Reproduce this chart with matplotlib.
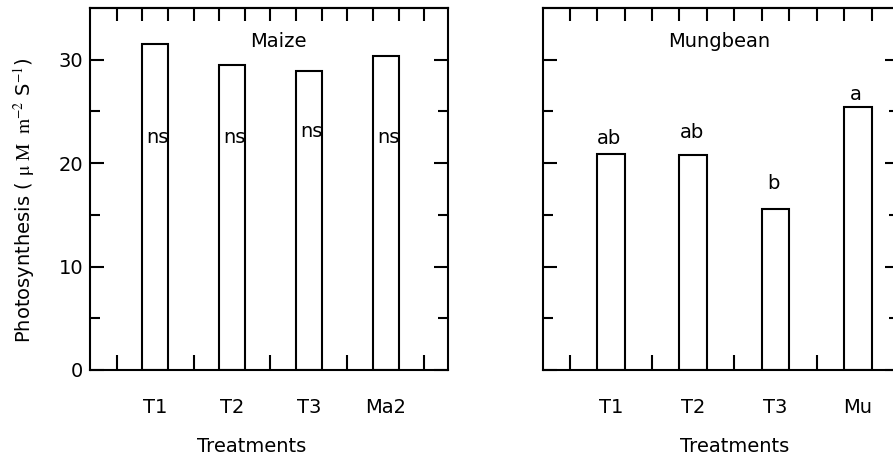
import matplotlib
matplotlib.use("Agg")
import matplotlib.pyplot as plt
import numpy as np

plt.rcParams['font.family'] = ['DejaVu Sans']
plt.rcParams['mathtext.fontset'] = 'stix'

maize_labels = ["T1", "T2", "T3", "Ma2"]
maize_values = [31.55, 29.5, 28.9, 30.4]
maize_letters = ["ns", "ns", "ns", "ns"]
maize_letter_y = [22.5, 22.5, 23.1, 22.5]

mung_labels = ["T1", "T2", "T3", "Mu"]
mung_values = [20.9, 20.8, 15.6, 25.4]
mung_letters = ["ab", "ab", "b", "a"]
mung_letter_y = [22.4, 23.0, 18.0, 26.6]

fig = plt.figure(figsize=(8.93, 4.59), dpi=100)
ax1 = fig.add_axes([0.1008, 0.1939, 0.4009, 0.7887])
ax2 = fig.add_axes([0.6077, 0.1939, 0.3990, 0.7887])

lw = 1.5


def style(ax, labels, values, letters, letter_y, letter_dx, title, title_x, xlim,
          label_x, show_y):
    pos = np.arange(1, len(values) + 1)
    ax.bar(pos, values, width=1 / 3, facecolor='white', edgecolor='black',
           linewidth=lw, zorder=2)
    for p, t, yy in zip(pos, letters, letter_y):
        ax.text(p + letter_dx, yy, t, ha='center', va='center', fontsize=14,
                zorder=3)
    ax.text(title_x, 31.8, title, ha='center', va='center', fontsize=14)
    ax.set_xlim(*xlim)
    ax.set_ylim(0, 35)
    for s in ax.spines.values():
        s.set_linewidth(lw)

    # bottom: labels under bars, tick marks between bars
    ax.set_xticks(pos, labels, fontsize=14)
    ax.set_xticks(np.arange(0.5, len(values) + 1, 1.0), minor=True)
    ax.tick_params(axis='x', which='major', length=0, pad=20, top=False)
    ax.tick_params(axis='x', which='minor', direction='in', length=11,
                   width=lw, top=False)
    top = ax.secondary_xaxis('top')
    top.set_xticks(np.arange(0.5, len(values) + 0.6, 1 / 3))
    top.tick_params(direction='in', length=9, width=lw, labeltop=False)
    top.spines['top'].set_linewidth(lw)

    ax.set_yticks([0, 10, 20, 30])
    ax.set_yticks([5, 15, 25], minor=True)
    ax.tick_params(axis='y', which='both', direction='in', left=True,
                   right=True, width=lw, labelsize=14, pad=5,
                   labelleft=show_y)
    ax.tick_params(axis='y', which='major', length=10)
    ax.tick_params(axis='y', which='minor', length=7)

    ax.set_xlabel("Treatments", fontsize=14)
    ax.xaxis.set_label_coords(label_x, -0.185)


style(ax1, maize_labels, maize_values, maize_letters, maize_letter_y, 0.03,
      "Maize", 2.6, (0.153, 4.81), 0.452, True)
style(ax2, mung_labels, mung_values, mung_letters, mung_letter_y, -0.02,
      "Mungbean", 2.32, (0.171, 4.47), 0.54, False)

ax1.set_ylabel(r"Photosynthesis ( $\mathrm{\mu\ M\ \ m^{-2}}$ S$^{-1}$)",
               fontsize=14)
ax1.yaxis.set_label_coords(-0.148, 0.47)

fig.savefig("out.png", dpi=100)
